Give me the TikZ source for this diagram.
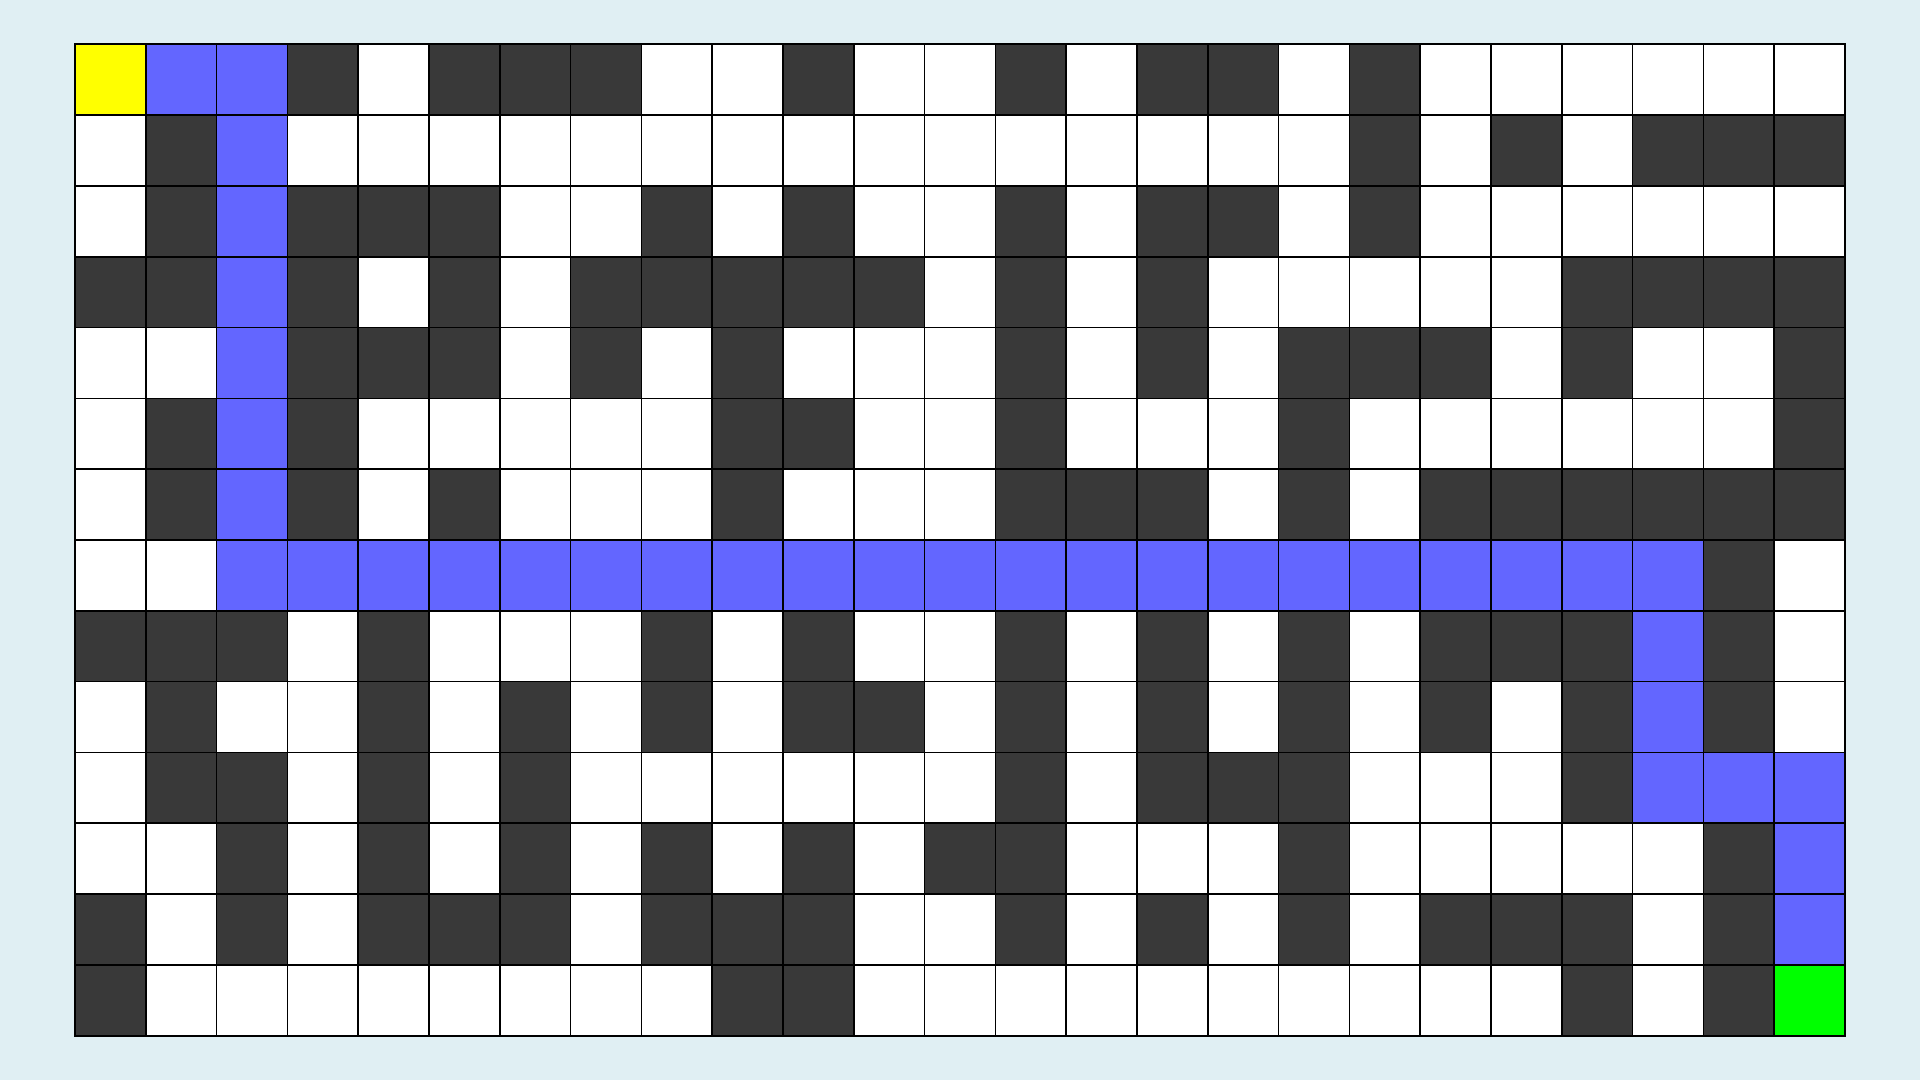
\documentclass[tikz,border=0pt]{standalone}
\usepackage{xcolor}
\usepackage{tikz}
\definecolor{mazebg}{HTML}{E0EFF3}
\definecolor{mzW}{HTML}{FFFFFF}
\definecolor{mzD}{HTML}{393939}
\definecolor{mzP}{HTML}{6366FF}
\definecolor{mzS}{HTML}{FFFF00}
\definecolor{mzG}{HTML}{00FF00}
\tikzset{
    cell/.style = {rectangle, draw=black, line width=0.6pt, fill=#1, minimum size=1cm, inner sep=0pt, outer sep=0pt},
    border/.style = {draw=black, line width=0.8pt}
}
\begin{document}
\begin{tikzpicture}
    % background and page size
    \fill[mazebg] (-1.06,0.6275) rectangle (26.06,-14.6275);
    \useasboundingbox (-1.06,0.6275) rectangle (26.06,-14.6275);

    % S = start, P = path, D = wall, W = free, G = goal
    \foreach \row [count=\r from 0] in {
        {S,P,P,D,W,D,D,D,W,W,D,W,W,D,W,D,D,W,D,W,W,W,W,W,W},
        {W,D,P,W,W,W,W,W,W,W,W,W,W,W,W,W,W,W,D,W,D,W,D,D,D},
        {W,D,P,D,D,D,W,W,D,W,D,W,W,D,W,D,D,W,D,W,W,W,W,W,W},
        {D,D,P,D,W,D,W,D,D,D,D,D,W,D,W,D,W,W,W,W,W,D,D,D,D},
        {W,W,P,D,D,D,W,D,W,D,W,W,W,D,W,D,W,D,D,D,W,D,W,W,D},
        {W,D,P,D,W,W,W,W,W,D,D,W,W,D,W,W,W,D,W,W,W,W,W,W,D},
        {W,D,P,D,W,D,W,W,W,D,W,W,W,D,D,D,W,D,W,D,D,D,D,D,D},
        {W,W,P,P,P,P,P,P,P,P,P,P,P,P,P,P,P,P,P,P,P,P,P,D,W},
        {D,D,D,W,D,W,W,W,D,W,D,W,W,D,W,D,W,D,W,D,D,D,P,D,W},
        {W,D,W,W,D,W,D,W,D,W,D,D,W,D,W,D,W,D,W,D,W,D,P,D,W},
        {W,D,D,W,D,W,D,W,W,W,W,W,W,D,W,D,D,D,W,W,W,D,P,P,P},
        {W,W,D,W,D,W,D,W,D,W,D,W,D,D,W,W,W,D,W,W,W,W,W,D,P},
        {D,W,D,W,D,D,D,W,D,D,D,W,W,D,W,D,W,D,W,D,D,D,W,D,P},
        {D,W,W,W,W,W,W,W,W,D,D,W,W,W,W,W,W,W,W,W,W,D,W,D,G}}{
        \foreach \v [count=\c from 0] in \row {
            \node [cell=mz\v] (c-\r-\c) at (\c+0.5,-\r-0.5) {};
        }
    }

    % outer frame
    \draw [border] (c-0-0.north west) rectangle (c-13-24.south east);
\end{tikzpicture}
\end{document}
